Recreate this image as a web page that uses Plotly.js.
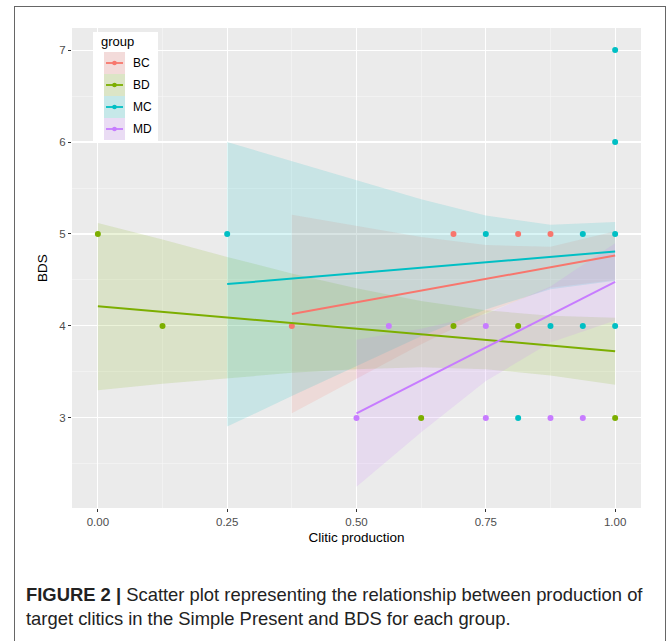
<!DOCTYPE html>
<html>
<head>
<meta charset="utf-8">
<script src="https://cdn.plot.ly/plotly-3.0.1.min.js"></script>
<style>
  html, body { margin:0; padding:0; background:#fff; width:672px; height:641px; overflow:hidden; }
  #frame { position:absolute; left:14px; top:6px; width:652px; height:660px; border:1.5px solid #666; box-sizing:border-box; }
  #plot { position:absolute; left:0; top:0; width:672px; height:560px; }
  #caption { position:absolute; left:26px; top:583px; width:640px; font-family:"Liberation Sans", Arial, sans-serif; font-size:18.4px; line-height:24px; color:#222; white-space:nowrap; }
  #caption b { font-weight:bold; }
</style>
</head>
<body>
<div id="frame"></div>
<div id="plot"></div>
<div id="caption"><b>FIGURE 2 |</b> Scatter plot representing the relationship between production of<br>target clitics in the Simple Present and BDS for each group.</div>
<script>
// ---- data ----
const groups = ['BC', 'BD', 'MC', 'MD'];
const colors = ['#F8766D', '#7CAE00', '#00BFC4', '#C77CFF'];

// observed points
const BC_x = [0.375, 0.6875, 0.8125, 0.875];
const BC_y = [4, 5, 5, 5];
const BD_x = [0, 0.125, 0.625, 0.6875, 0.8125, 1.0];
const BD_y = [5, 4, 3, 4, 4, 3];
const MC_x = [0.25, 0.75, 0.9375, 1.0, 0.875, 0.9375, 1.0, 0.8125, 1.0, 1.0];
const MC_y = [5, 5, 5, 5, 4, 4, 4, 3, 6, 7];
const MD_x = [0.5, 0.5625, 0.75, 0.75, 0.875, 0.9375];
const MD_y = [3, 4, 4, 3, 3, 3];

// fitted lines and 95% CI bands
const BC_fx = [0.375, 0.5, 0.625, 0.75, 0.875, 1.0];
const BC_fit = [4.13, 4.257, 4.384, 4.511, 4.638, 4.765];
const BC_up = [5.21, 5.087, 4.968, 4.880, 4.860, 5.03];
const BC_lo = [3.05, 3.427, 3.800, 4.142, 4.416, 4.50];

const BD_fx = [0, 0.125, 0.25, 0.375, 0.5, 0.625, 0.75, 0.875, 1.0];
const BD_fit = [4.213, 4.152, 4.091, 4.030, 3.970, 3.909, 3.848, 3.787, 3.726];
const BD_up = [5.12, 4.94, 4.75, 4.57, 4.41, 4.27, 4.17, 4.11, 4.09];
const BD_lo = [3.30, 3.37, 3.43, 3.49, 3.53, 3.55, 3.53, 3.46, 3.36];

const MC_fx = [0.25, 0.375, 0.5, 0.625, 0.75, 0.875, 1.0];
const MC_fit = [4.455, 4.514, 4.573, 4.633, 4.692, 4.751, 4.81];
const MC_up = [6.0, 5.79, 5.58, 5.378, 5.20, 5.10, 5.13];
const MC_lo = [2.905, 3.237, 3.566, 3.888, 4.18, 4.40, 4.49];

const MD_fx = [0.5, 0.625, 0.75, 0.875, 1.0];
const MD_fit = [3.05, 3.408, 3.765, 4.123, 4.48];
const MD_up = [3.85, 3.97, 4.13, 4.43, 4.90];
const MD_lo = [2.25, 2.845, 3.40, 3.82, 4.06];

const xTicks = [0, 0.25, 0.5, 0.75, 1.0];
const xTickText = ['0.00', '0.25', '0.50', '0.75', '1.00'];
const yTicks = [3, 4, 5, 6, 7];
const yTickText = ['3', '4', '5', '6', '7'];

// ---- build ----
const pts = { BC: [BC_x, BC_y], BD: [BD_x, BD_y], MC: [MC_x, MC_y], MD: [MD_x, MD_y] };
const fits = {
  BC: [BC_fx, BC_fit, BC_up, BC_lo], BD: [BD_fx, BD_fit, BD_up, BD_lo],
  MC: [MC_fx, MC_fit, MC_up, MC_lo], MD: [MD_fx, MD_fit, MD_up, MD_lo]
};
function rgba(hex, a) {
  const r = parseInt(hex.slice(1, 3), 16), g = parseInt(hex.slice(3, 5), 16), b = parseInt(hex.slice(5, 7), 16);
  return `rgba(${r},${g},${b},${a})`;
}
const traces = [];
groups.forEach((g, i) => {
  const [fx, , up, lo] = fits[g];
  traces.push({
    x: fx.concat(fx.slice().reverse()),
    y: up.concat(lo.slice().reverse()),
    type: 'scatter', mode: 'lines', fill: 'toself',
    fillcolor: rgba(colors[i], 0.15), line: { width: 0 },
    hoverinfo: 'skip', showlegend: false
  });
});
groups.forEach((g, i) => {
  traces.push({
    x: pts[g][0], y: pts[g][1], type: 'scatter', mode: 'markers',
    marker: { color: colors[i], size: 6 }, showlegend: false, name: g
  });
});
groups.forEach((g, i) => {
  const [fx, fit] = fits[g];
  traces.push({
    x: fx, y: fit, type: 'scatter', mode: 'lines',
    line: { color: colors[i], width: 2 }, showlegend: false, name: g
  });
});

// manual ggplot-style legend (pixel positions converted to paper coords)
const L = 72, R = 641, T = 28, B = 508;
const px = v => (v - L) / (R - L);
const py = v => (B - v) / (B - T);
const shapes = [{
  type: 'rect', xref: 'paper', yref: 'paper', x0: px(93), x1: px(158), y0: py(32), y1: py(142),
  fillcolor: '#ffffff', line: { width: 0 }
}];
const annotations = [{
  xref: 'paper', yref: 'paper', x: px(99), y: py(41), xanchor: 'left', yanchor: 'middle',
  text: 'group', showarrow: false, font: { family: 'Liberation Sans, Arial', size: 13, color: '#000' }
}];
groups.forEach((g, i) => {
  const cy = 63 + i * 22;
  shapes.push({ type: 'rect', xref: 'paper', yref: 'paper', x0: px(104), x1: px(125), y0: py(cy - 11), y1: py(cy + 11), fillcolor: '#F2F2F2', line: { width: 0 } });
  shapes.push({ type: 'rect', xref: 'paper', yref: 'paper', x0: px(104), x1: px(125), y0: py(cy - 11), y1: py(cy + 11), fillcolor: rgba(colors[i], 0.18), line: { width: 0 } });
  shapes.push({ type: 'line', xref: 'paper', yref: 'paper', x0: px(106), x1: px(123), y0: py(cy), y1: py(cy), line: { color: colors[i], width: 1.8 } });
  shapes.push({ type: 'circle', xref: 'paper', yref: 'paper', x0: px(112.2), x1: px(116.8), y0: py(cy - 2.3), y1: py(cy + 2.3), fillcolor: colors[i], line: { width: 0 } });
  annotations.push({
    xref: 'paper', yref: 'paper', x: px(131), y: py(cy), xanchor: 'left', yanchor: 'middle',
    text: g, showarrow: false, font: { family: 'Liberation Sans, Arial', size: 12, color: '#000' }
  });
});

const layout = {
  width: 672, height: 560,
  margin: { l: L, r: 672 - R, t: T, b: 560 - B, pad: 0 },
  paper_bgcolor: 'rgba(0,0,0,0)', plot_bgcolor: '#EBEBEB',
  showlegend: false,
  font: { family: 'Liberation Sans, Arial, sans-serif' },
  xaxis: {
    range: [-0.05, 1.05], tickvals: xTicks, ticktext: xTickText,
    showgrid: true, gridcolor: '#FFFFFF', gridwidth: 1.1, zeroline: false,
    ticks: 'outside', ticklen: 3, tickwidth: 1, tickcolor: '#333333',
    tickfont: { size: 11.5, color: '#4D4D4D' },
    minor: { tickvals: [-0.125, 0.125, 0.375, 0.625, 0.875, 1.125], showgrid: true, gridcolor: '#F6F6F6', gridwidth: 0.6, ticks: '' },
    title: { text: 'Clitic production', font: { size: 13.5, color: '#000' }, standoff: 5 },
    showline: false, fixedrange: true
  },
  yaxis: {
    range: [2.02, 7.24], tickvals: yTicks, ticktext: yTickText,
    showgrid: true, gridcolor: '#FFFFFF', gridwidth: 1.1, zeroline: false,
    ticks: 'outside', ticklen: 3, tickwidth: 1, tickcolor: '#333333',
    tickfont: { size: 11.5, color: '#4D4D4D' },
    minor: { tickvals: [2.5, 3.5, 4.5, 5.5, 6.5], showgrid: true, gridcolor: '#F6F6F6', gridwidth: 0.6, ticks: '' },
    title: { text: 'BDS', font: { size: 13.5, color: '#000' }, standoff: 8 },
    showline: false, fixedrange: true
  },
  shapes: shapes,
  annotations: annotations
};

Plotly.newPlot('plot', traces, layout, { displayModeBar: false, staticPlot: true });
</script>
</body>
</html>
